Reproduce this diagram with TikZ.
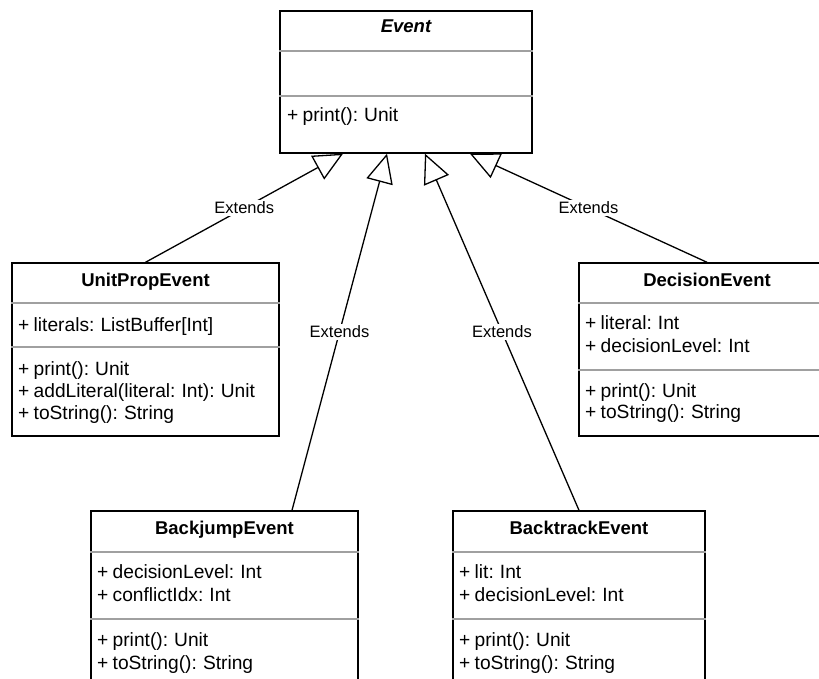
\documentclass[tikz,border=0pt]{standalone}
\usepackage{fontspec}
\setmainfont{Liberation Sans}[WordSpace=0.8]
\usepackage{xcolor}
\usetikzlibrary{arrows.meta}
\definecolor{umlink}{HTML}{000000}
\definecolor{umlrule}{HTML}{A0A0A0}

\begin{document}
\begin{tikzpicture}[
  x=1pt,
  y=-1pt,
  classbox/.style={draw=umlink, line width=1.4pt, inner sep=0pt},
  classtitle/.style={font=\fontsize{18.5}{22}\selectfont\bfseries, inner sep=0pt, text height=14pt, text depth=4pt},
  member/.style={font=\fontsize{19.2}{22}\selectfont, anchor=west, inner sep=0pt, text height=14pt, text depth=4pt},
  rule/.style={draw=umlrule, line width=1.6pt},
  extends/.style={draw=umlink, line width=1.3pt, -{Triangle[open, length=29pt, width=27pt, line width=1.3pt]}},
  extlabel/.style={midway, fill=white, inner sep=1.5pt, font=\fontsize{16.5}{20}\selectfont}
]
  \clip (0,0) rectangle (819,679);
  \fill[white] (0,0) rectangle (819,679);

  % Event
  \node[classbox, minimum width=252pt, minimum height=142pt] (event) at (406,82) {};
  \node[classtitle, font=\fontsize{18.5}{22}\selectfont\bfseries\itshape] (event-title) at (406,28) {Event};
  \draw[rule] (event.west |- 0,51) -- (event.east |- 0,51);
  \draw[rule] (event.west |- 0,96) -- (event.east |- 0,96);
  \node[member] (event-m1) at (287,117) {+ print(): Unit};

  % UnitPropEvent
  \node[classbox, minimum width=267pt, minimum height=173pt] (unitprop) at (145.5,349.5) {};
  \node[classtitle] (unitprop-title) at (145.5,281) {UnitPropEvent};
  \draw[rule] (unitprop.west |- 0,303) -- (unitprop.east |- 0,303);
  \draw[rule] (unitprop.west |- 0,347) -- (unitprop.east |- 0,347);
  \node[member] (unitprop-a1) at (18,326) {+ literals: ListBuffer[Int]};
  \node[member] (unitprop-m1) at (18,370) {+ print(): Unit};
  \node[member] (unitprop-m2) at (18,392) {+ addLiteral(literal: Int): Unit};
  \node[member] (unitprop-m3) at (18,414) {+ toString(): String};

  % DecisionEvent
  \node[classbox, minimum width=256pt, minimum height=173pt] (decision) at (707,349.5) {};
  \node[classtitle] (decision-title) at (707,281) {DecisionEvent};
  \draw[rule] (decision.west |- 0,303) -- (decision.east |- 0,303);
  \draw[rule] (decision.west |- 0,370) -- (decision.east |- 0,370);
  \node[member] (decision-a1) at (585,324) {+ literal: Int};
  \node[member] (decision-a2) at (585,347) {+ decisionLevel: Int};
  \node[member] (decision-m1) at (585,392) {+ print(): Unit};
  \node[member] (decision-m2) at (585,413) {+ toString(): String};

  % BackjumpEvent
  \node[classbox, minimum width=267pt, minimum height=189pt] (backjump) at (224.5,605.5) {};
  \node[classtitle] (backjump-title) at (224.5,529) {BackjumpEvent};
  \draw[rule] (backjump.west |- 0,552) -- (backjump.east |- 0,552);
  \draw[rule] (backjump.west |- 0,619) -- (backjump.east |- 0,619);
  \node[member] (backjump-a1) at (97,573) {+ decisionLevel: Int};
  \node[member] (backjump-a2) at (97,596) {+ conflictIdx: Int};
  \node[member] (backjump-m1) at (97,641) {+ print(): Unit};
  \node[member] (backjump-m2) at (97,664) {+ toString(): String};

  % BacktrackEvent
  \node[classbox, minimum width=252pt, minimum height=189pt] (backtrack) at (579,605.5) {};
  \node[classtitle] (backtrack-title) at (579,529) {BacktrackEvent};
  \draw[rule] (backtrack.west |- 0,552) -- (backtrack.east |- 0,552);
  \draw[rule] (backtrack.west |- 0,619) -- (backtrack.east |- 0,619);
  \node[member] (backtrack-a1) at (459,573) {+ lit: Int};
  \node[member] (backtrack-a2) at (459,596) {+ decisionLevel: Int};
  \node[member] (backtrack-m1) at (459,641) {+ print(): Unit};
  \node[member] (backtrack-m2) at (459,664) {+ toString(): String};

  % generalisations
  \draw[extends] (unitprop.north) -- node[extlabel] (ext-unitprop) {Extends} ([xshift=-63pt]event.south);
  \draw[extends] ([xshift=67.5pt]backjump.north) -- node[extlabel] (ext-backjump) {Extends} ([xshift=-19pt]event.south);
  \draw[extends] (backtrack.north) -- node[extlabel] (ext-backtrack) {Extends} ([xshift=19pt]event.south);
  \draw[extends] (decision.north) -- node[extlabel] (ext-decision) {Extends} ([xshift=64pt]event.south);
\end{tikzpicture}
\end{document}
